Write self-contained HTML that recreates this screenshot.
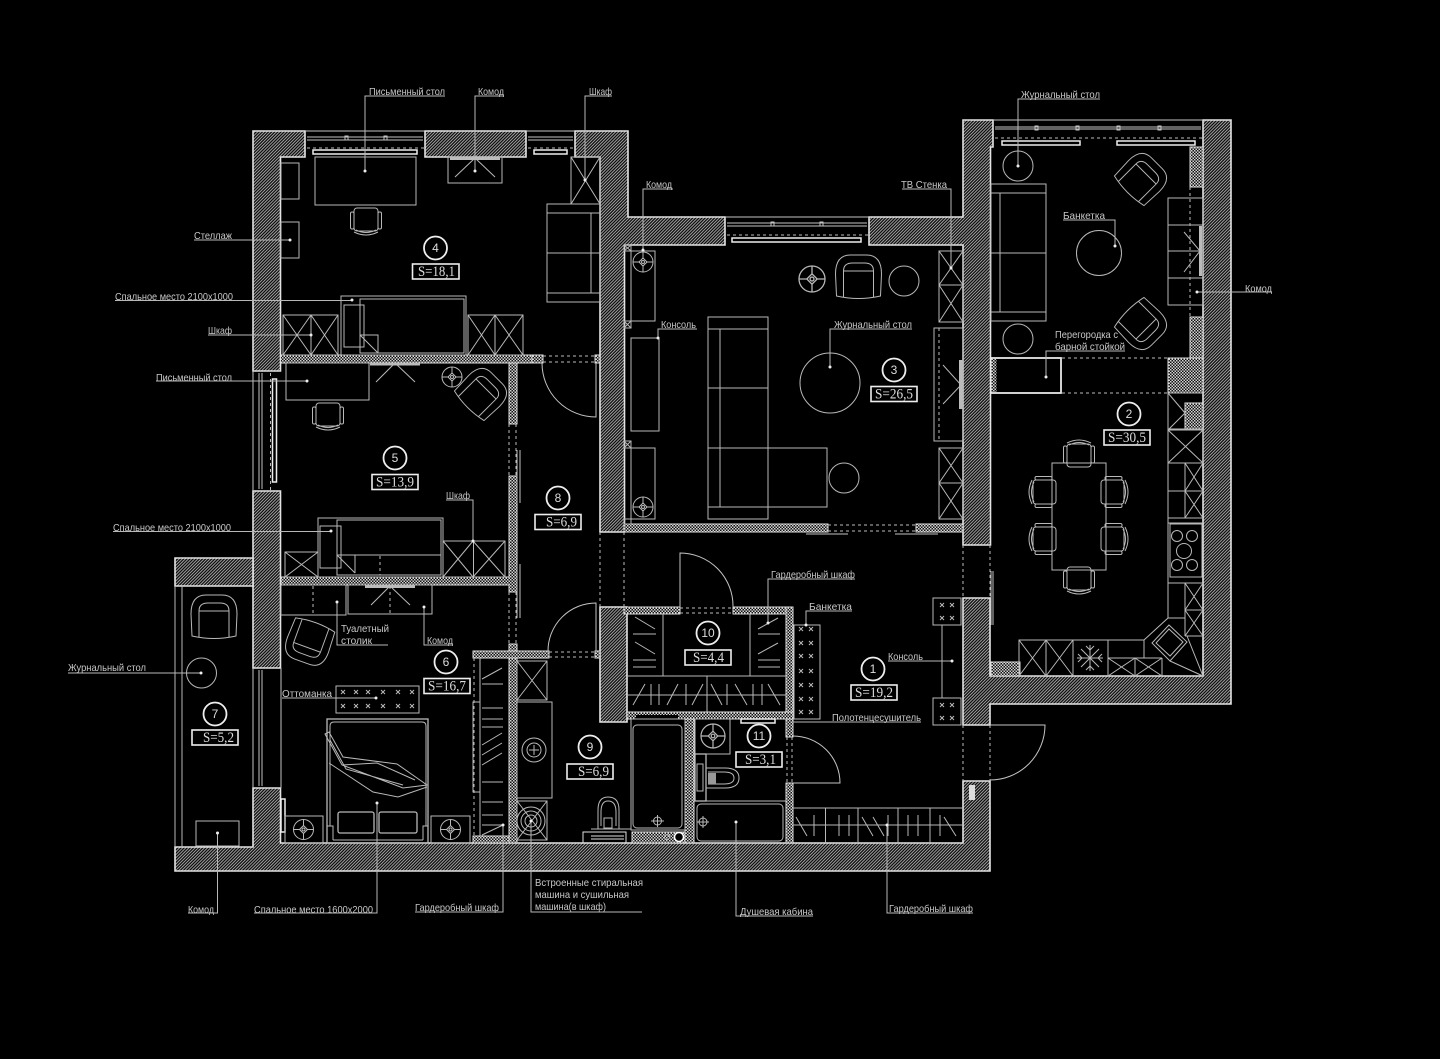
<!DOCTYPE html>
<html><head><meta charset="utf-8"><style>
html,body{margin:0;padding:0;background:#000}
svg{display:block;filter:blur(.3px)}
text{font-family:"Liberation Sans",sans-serif;font-size:10.5px;fill:#c8c8c8;letter-spacing:0}
.n{font-size:12px;text-anchor:middle;fill:#ddd}
.s{font-family:"Liberation Serif",serif;font-size:15px;fill:#ddd}
.l{fill:none;stroke:#b8b8b8;stroke-width:1}
.m{fill:none;stroke:#c4c4c4;stroke-width:1}
.w{stroke:#e4e4e4;stroke-width:1.6}
.d{fill:none;stroke:#bbb;stroke-width:1;stroke-dasharray:3 3}
.b{fill:#000;stroke:#e8e8e8;stroke-width:1.8}
.t{fill:#000;stroke:#eee;stroke-width:1.6}
.o{fill:#eee}
.c{fill:none;stroke:#eee;stroke-width:1.8}
</style></head><body>
<svg xmlns="http://www.w3.org/2000/svg" width="1440" height="1059" viewBox="0 0 1440 1059">
<defs>
<pattern id="h" width="2.2" height="2.2" patternUnits="userSpaceOnUse" patternTransform="rotate(45)"><rect width="2.2" height="2.2" fill="#0a0a0a"/><rect width="0.95" height="2.2" fill="#a8a8a8"/></pattern>
<pattern id="k" width="3" height="3" patternUnits="userSpaceOnUse"><rect width="3" height="3" fill="#111"/><rect width="1.5" height="1.5" fill="#d4d4d4"/><rect x="1.5" y="1.5" width="1.5" height="1.5" fill="#d4d4d4"/></pattern>
<g id="lamp"><circle r="10" class="l"/><path class="l" d="M-10 0H-3M3 0H10M0-10V-3M0 3V10M0-4L4 0 0 4-4 0Z"/><circle r="1.5" class="l"/></g>
<g id="arm"><path class="l" d="M-22 19L-23-3Q-23-22-8-22H8Q23-22 23-3L22 19Q0 24-22 19Z"/><path class="l" d="M-15 20V-6H15V20M-15-6Q-15-14-6-14H6Q15-14 15-6"/></g>
<g id="ch"><rect x="-12" y="-14" width="24" height="23" rx="3" class="l"/><rect x="-15.5" y="-10" width="3.5" height="17" rx="1.5" class="l"/><rect x="12" y="-10" width="3.5" height="17" rx="1.5" class="l"/><path class="l" d="M-12 10Q0 16 12 10M-10 8Q0 13 10 8"/></g>
<path id="x" d="M-2-2L2 2M2-2L-2 2" fill="none" stroke="#bbb" stroke-width="1"/>
</defs>
<rect width="1440" height="1059" fill="#000"/>

<!-- main walls -->
<g fill="url(#h)" class="w">
<path d="M253 131H305V157H280.5V371H253Z"/>
<path d="M425 131H526V157H425Z"/>
<path d="M575 131H628V217H725V245H624.5V532H600V157H575Z"/>
<path d="M869 217H963V120H993V147H990.5V545H963V245H869Z"/>
<path d="M1203 120H1231V704H990V725H963V598H990V676H1203Z"/>
<path d="M963 781H990V871H175V847H253V788H280.5V843H963Z"/>
<path d="M253 491H280.5V668H253Z"/>
<path d="M175 558H253V586H175Z"/>
<path d="M600 607H627V722H600Z"/>
</g>
<!-- checkered walls -->
<g fill="url(#k)" stroke="#ddd" stroke-width="1">
<path d="M280.5 355H532V363H280.5Z"/>
<rect x="532" y="355" width="11" height="8"/>
<rect x="595" y="355" width="5" height="8"/>
<rect x="509" y="363" width="8" height="61"/>
<path d="M509 476H517V592H509V585H281V577H509Z"/>
<rect x="509" y="644" width="8" height="199"/>
<rect x="473" y="651" width="76" height="7"/>
<rect x="595" y="651" width="5" height="7"/>
<rect x="473" y="836" width="36" height="7"/>
<rect x="624" y="607" width="56" height="7"/>
<rect x="733" y="607" width="60" height="7"/>
<rect x="786" y="607" width="7" height="130"/>
<rect x="786" y="783" width="7" height="60"/>
<rect x="627" y="712" width="166" height="7"/>
<rect x="685" y="719" width="9" height="124"/>
<rect x="632" y="832" width="53" height="11"/>
<rect x="624" y="524" width="204" height="8"/>
<rect x="916" y="524" width="47" height="8"/>
<rect x="1190" y="147" width="13" height="40"/>
<rect x="1190" y="317" width="13" height="41"/>
<rect x="1168" y="358" width="35" height="35"/>
<rect x="1185" y="403" width="18" height="26"/>
<rect x="991" y="662" width="29" height="14"/>
</g>
<rect x="636" y="715" width="42" height="5" fill="#000"/>

<!-- windows -->
<g class="m">
<path d="M305 131H425M307 137H423M307 140H423M526 131H575M528 137H573M528 140H573"/>
<path d="M725 217H869M727 223H867M727 226H867"/>
<path d="M993 120H1203M995 127H1201M995 129H1201"/>
<path d="M253 371V491M259 373V489M262 373V489M253 668V788M259 670V786M262 670V786M281 668V788"/>
<rect x="345" y="136" width="3" height="4"/><rect x="384" y="136" width="3" height="4"/>
<rect x="771" y="222" width="3" height="4"/><rect x="820" y="222" width="3" height="4"/>
<rect x="1035" y="126" width="3" height="4"/><rect x="1076" y="126" width="3" height="4"/><rect x="1117" y="126" width="3" height="4"/><rect x="1158" y="126" width="3" height="4"/>
</g>
<path class="d" d="M307 148H425M528 148H575M727 235H869M995 138H1203M270.5 373V491"/>
<g fill="#000" stroke="#eee" stroke-width="1.5">
<rect x="313" y="150" width="104" height="4"/><rect x="534" y="150" width="33" height="4"/>
<rect x="732" y="238" width="129" height="4"/>
<rect x="1002" y="141" width="78" height="4"/><rect x="1117" y="141" width="78" height="4"/>
<rect x="272.5" y="379" width="4" height="103"/>
<rect x="281" y="799" width="4" height="33"/>
<rect x="741" y="719" width="34" height="4"/>
</g>
<rect x="969" y="785" width="6" height="15" fill="#ddd"/>

<!-- dashes at doors -->
<path class="d" d="M543 356H595M543 362H595M549 652H595M549 657H595M509 424V476M516 424V476M509 592V644M516 592V644M600 532V607M624 532V607M680 608H733M680 613H733M828 525H916M828 531H916M963 545V598M990 545V598M963 725V781M990 725V781M787 737V783M792 737V783M1062 358H1168M1062 393H1168M1190 187V317"/>
<!-- doors -->
<path class="m" d="M542 363A54 54 0 0 0 596 417V363M548 651A48 48 0 0 1 596 603V651M680 607V553A53 53 0 0 1 733 607M793 736A47 47 0 0 1 840 783H793M990 725H1045A55 55 0 0 1 990 780"/>
<path class="m" d="M517 450V503M520 450V503M517 564V618M520 564V618M806 534H848M895 534H938M991 571V625M993 571V625"/>

<!-- ROOM 4 -->
<g class="l">
<rect x="315" y="157" width="101" height="48"/>
<rect x="448" y="157" width="54" height="26"/>
<path d="M475 158L455 177M475 158L495 177"/>
<rect x="571" y="157" width="29" height="47"/><path d="M571 157L600 204M600 157L571 204"/>
<rect x="547" y="204" width="53" height="98"/><path d="M547 213H600M591 213V293M547 253H600M547 293H600"/>
<rect x="281" y="163" width="18" height="36"/><rect x="281" y="222" width="18" height="36"/>
<rect x="341" y="296" width="125" height="59"/><rect x="360" y="299" width="104" height="54"/>
<rect x="344" y="305" width="20" height="42"/>
<path d="M360 335H378V353M360 335L378 353"/>
<rect x="283" y="315" width="55" height="40"/><path d="M311 315V355M283 355L311 315M283 315L311 355M311 315L338 355M338 315L311 355"/>
<rect x="468" y="315" width="55" height="40"/><path d="M495 315V355M468 355L495 315M468 315L495 355M495 315L523 355M523 315L495 355"/>
</g>
<rect x="450" y="157" width="50" height="3" fill="#bbb"/>
<use href="#ch" x="366" y="222"/>

<!-- ROOM 3 -->
<g class="l">
<rect x="631" y="251" width="24" height="70"/>
<rect x="631" y="338" width="28" height="93"/>
<rect x="631" y="448" width="24" height="71"/>
<path d="M708 519V317H768V519ZM708 329H768M720 329V507M708 388H768M708 448H827V507H708"/>
<circle cx="904" cy="281" r="15"/><circle cx="844" cy="478" r="15"/><circle cx="830" cy="383" r="30"/>
<rect x="939" y="251" width="24" height="71"/><path d="M939 285H963M939 251L963 285M963 251L939 285M939 285L963 322M963 285L939 322"/>
<rect x="934" y="328" width="29" height="113"/><path d="M943 365L961 385L943 404"/>
<rect x="939" y="448" width="24" height="71"/><path d="M939 483H963M939 448L963 483M963 448L939 483M939 483L963 519M963 483L939 519"/>
<rect x="624" y="245" width="7" height="6"/><rect x="624" y="321" width="7" height="7"/><rect x="624" y="441" width="7" height="7"/><rect x="624" y="519" width="7" height="5"/>
<path d="M624 245L631 251M631 245L624 251M624 321L631 328M631 321L624 328M624 441L631 448M631 441L624 448"/>
</g>
<path class="d" d="M939 328V441"/>
<rect x="959" y="360" width="3.5" height="49" fill="#bbb"/>
<use href="#lamp" x="643" y="262"/><use href="#lamp" x="643" y="507"/>
<use href="#lamp" transform="translate(812 279) scale(1.3)"/>
<use href="#arm" x="858.5" y="277"/>

<!-- ROOM 2 upper -->
<g class="l">
<circle cx="1018" cy="166" r="15"/><circle cx="1018" cy="339" r="15"/><circle cx="1099" cy="253" r="22.5"/>
<rect x="991" y="184" width="55" height="137"/><path d="M991 193H1046M1000 193V312M991 253H1046M991 312H1046"/>
<rect x="1168" y="198" width="35" height="107"/><path d="M1168 225H1203M1168 251H1203M1168 278H1203M1184 232L1200 251L1184 272"/>
</g>
<rect x="1199" y="226" width="3" height="50" fill="#bbb"/>
<use href="#arm" transform="translate(1142 178) rotate(45) scale(.95)"/>
<use href="#arm" transform="translate(1142 325) rotate(135) scale(.95)"/>
<rect x="991" y="358" width="70" height="35" class="b" fill="#000"/>
<rect x="991.5" y="359" width="5" height="33" fill="url(#k)"/>

<!-- ROOM 2 lower -->
<rect x="1052" y="463" width="54" height="107" class="l"/>
<use href="#ch" transform="translate(1079 453) rotate(180)"/>
<use href="#ch" transform="translate(1079 581)"/>
<use href="#ch" transform="translate(1042 492) rotate(90)"/>
<use href="#ch" transform="translate(1042 539) rotate(90)"/>
<use href="#ch" transform="translate(1115 492) rotate(-90)"/>
<use href="#ch" transform="translate(1115 539) rotate(-90)"/>
<g class="l">
<path d="M1168 393V618L1144 640H1019V676M1168 393L1203 393M1168 430L1185 413M1168 393L1185 413M1168 429H1203"/>
<rect x="1168" y="430" width="35" height="33"/><path d="M1168 430L1203 463M1203 430L1168 463"/>
<path d="M1168 463H1203M1185 463V518M1168 491H1203M1168 518H1203M1168 523H1203M1185 463L1203 491M1203 463L1185 491M1185 491L1203 518M1203 491L1185 518"/>
<rect x="1170" y="524" width="32" height="53"/>
<circle cx="1177" cy="536" r="5.5"/><circle cx="1192" cy="536" r="5.5"/><circle cx="1184" cy="551" r="7.5"/><circle cx="1177" cy="565" r="5.5"/><circle cx="1192" cy="565" r="5.5"/>
<path d="M1168 583H1203M1185 583V636M1168 618H1185M1185 610H1203M1185 636H1203M1185 583L1203 610M1203 583L1185 610M1185 610L1203 636M1203 610L1185 636"/>
<path d="M1046 640V676M1073 640V676M1108 640V676M1144 640V658M1019 640L1046 676M1046 640L1019 676M1046 640L1073 676M1073 640L1046 676"/>
<path d="M1108 658H1162M1135 658V676M1162 658V676M1108 658L1135 676M1135 658L1108 676M1135 658L1162 676M1162 658L1135 676"/>
<path d="M1169 625L1187 642L1170 661L1152 643ZM1169 629L1183 642L1170 656L1156 643Z"/>
<path d="M1170 661L1203 676M1187 636L1203 676"/>
<path d="M1090 645V671M1077 658H1103M1081 649L1099 667M1099 649L1081 667M1086 646L1090 650L1094 646M1086 670L1090 666L1094 670M1078 654L1082 658L1078 662M1102 654L1098 658L1102 662"/>
</g>

<!-- ROOM 1 -->
<g class="l">
<rect x="933" y="598" width="28" height="27"/><rect x="933" y="698" width="28" height="27"/>
<path d="M942 625V698"/>
<rect x="794" y="625" width="26" height="94"/>
<path d="M793 808H963M825.5 808V843M858 808V843M898 808V843M930 808V843M793 825H963"/>
<path d="M796 817L807 836M814 815V836M839 815V836M849 815V836M862 817L873 836M873 817L884 836M888 815V836M908 815V836M918 815V836M940 815V836M944 817L956 836"/>
</g>
<g>
<use href="#x" x="942" y="605"/><use href="#x" x="952" y="605"/><use href="#x" x="942" y="618"/><use href="#x" x="952" y="618"/>
<use href="#x" x="942" y="705"/><use href="#x" x="952" y="705"/><use href="#x" x="942" y="718"/><use href="#x" x="952" y="718"/>
<use href="#x" x="801" y="629"/><use href="#x" x="811" y="629"/><use href="#x" x="801" y="643"/><use href="#x" x="811" y="643"/><use href="#x" x="801" y="656"/><use href="#x" x="811" y="656"/><use href="#x" x="801" y="671"/><use href="#x" x="811" y="671"/><use href="#x" x="801" y="685"/><use href="#x" x="811" y="685"/><use href="#x" x="801" y="699"/><use href="#x" x="811" y="699"/><use href="#x" x="801" y="712"/><use href="#x" x="811" y="712"/>
</g>

<!-- ROOM 10 -->
<g class="l">
<path d="M663 614V676M750 614V676M627 676H786M707 676V712M627 695H786"/>
<path d="M633 634H656M633 660H656M633 667H656M635 617L655 629M635 642L655 654"/>
<path d="M758 634H780M758 660H780M758 667H780M758 629L778 618M758 654L778 643"/>
<path d="M633 705L645 684M651 684V705M659 684V705M667 705L678 684M686 684V705M692 705L703 684M711 684L722 705M727 684V705M735 684L747 705M753 684V705M762 684V705M768 684L780 705"/>
</g>

<!-- ROOM 11 / bath -->
<g class="l">
<rect x="695" y="719" width="35" height="35"/>
<rect x="695" y="754" width="11" height="47" stroke-width="1.3"/>
<rect x="697" y="764" width="6" height="27"/>
<path d="M706 768H725Q739 768 739 778Q739 788 725 788H706"/>
<path d="M708 772H724Q734 772 734 778Q734 784 724 784H708"/>
<path d="M694 801H786"/>
<rect x="697" y="804" width="86" height="37" rx="4"/>
<rect x="631" y="719" width="54" height="111"/>
<rect x="633" y="725" width="49" height="103" rx="4"/>
<circle cx="657.5" cy="821" r="4"/><path d="M651 821H664M657.5 815V827"/>
<circle cx="703" cy="822" r="4"/><path d="M697 822H709M703 816V828"/>
<circle cx="667" cy="837" r="2.5"/>
</g>
<rect x="708" y="773" width="8" height="11" fill="#999"/>
<use href="#lamp" transform="translate(713 736) scale(1.2)"/>
<circle cx="679" cy="837" r="4.5" fill="#000" stroke="#fff" stroke-width="1.5"/>

<!-- ROOM 9 -->
<g class="l">
<rect x="517" y="661" width="30" height="39"/><path d="M517 661L547 700M547 661L517 700"/>
<rect x="517" y="702" width="35" height="96"/><circle cx="534" cy="750" r="12"/><circle cx="534" cy="750" r="7"/><path d="M529 750H539M534 745V755"/>
<rect x="517" y="801" width="30" height="39"/><path d="M517 801L547 840M547 801L517 840"/>
<circle cx="531" cy="821" r="14"/><circle cx="531" cy="821" r="10"/><circle cx="531" cy="821" r="6"/>
<path d="M591 829H631M598 829V810Q598 797 608 797Q619 797 619 810V829M601 826V812Q601 801 608 801Q616 801 616 812V826"/>
<rect x="604" y="818" width="8" height="10"/>
<path d="M583 843V832H626V843M591 836H624M591 839H624" stroke="#e0e0e0"/>
</g>

<!-- ROOM 6 -->
<g class="l">
<path d="M480 658V836"/><rect x="473" y="702" width="7" height="90"/>
<path d="M482 684H503M482 708H503M482 719H503M482 727H503M482 782H503M482 802H503M482 815H503M482 825H503M482 679L502 668M482 745L502 733M482 755L502 743M482 765L502 753M482 835L503 825"/>
<rect x="336" y="686" width="83" height="27"/>
<rect x="327" y="719" width="101" height="124" stroke-width="1.3"/>
<path d="M330 826V726Q330 722 334 722H422Q426 722 426 726V826"/>
<path d="M330 826H327M426 826H428M333 840H423M333 840V826H330M423 840V826H426"/>
<path d="M325 734L342 765L403 788L427 785L397 764L343 757L329 732ZM342 765L377 763L415 780M329 763L373 792L398 797L427 787M330 740L346 769L403 785"/>
<rect x="338" y="812" width="36" height="21" rx="2" stroke-width="1.3"/><rect x="379" y="812" width="38" height="21" rx="2" stroke-width="1.3"/>
<rect x="285" y="816" width="38" height="27"/><rect x="431" y="816" width="39" height="27"/>
<rect x="281" y="585" width="65" height="30"/><rect x="348" y="585" width="84" height="29"/>
<path d="M390 586L371 605M390 586L410 605"/>
</g>
<path class="d" d="M313 586V614M390 586V614M474 658V836"/>
<rect x="365" y="585" width="50" height="3" fill="#bbb"/>
<use href="#lamp" x="303.5" y="829.5"/><use href="#lamp" x="450.5" y="829.5"/>
<use href="#arm" transform="translate(309 642) rotate(200) scale(.95)"/>
<g>
<use href="#x" x="343" y="692"/><use href="#x" x="356" y="692"/><use href="#x" x="368" y="692"/><use href="#x" x="383" y="692"/><use href="#x" x="398" y="692"/><use href="#x" x="412" y="692"/>
<use href="#x" x="343" y="706"/><use href="#x" x="356" y="706"/><use href="#x" x="368" y="706"/><use href="#x" x="383" y="706"/><use href="#x" x="398" y="706"/><use href="#x" x="412" y="706"/>
</g>

<!-- ROOM 5 -->
<g class="l">
<rect x="286" y="363" width="83" height="37"/>
<path d="M395 363L376 382M395 363L415 382"/>
<rect x="318" y="518" width="125" height="59"/><rect x="337" y="520" width="104" height="55"/>
<rect x="320" y="526" width="21" height="42"/>
<path d="M337 555H441M337 555L355 573M355 555V573"/>
<rect x="285" y="552" width="33" height="25"/><path d="M285 552L318 577M318 552L285 577"/>
<rect x="443" y="541" width="62" height="36"/><path d="M473.5 541V577M443 577L473 541M443 541L473 577M473 541L505 577M505 541L473 577"/>
</g>
<path class="d" d="M380 556V575"/>
<rect x="370" y="363" width="50" height="2.5" fill="#bbb"/>
<use href="#ch" x="328" y="417"/>
<use href="#lamp" x="452" y="377"/>
<use href="#arm" transform="translate(482 393) rotate(45) scale(.95)"/>

<!-- ROOM 7 -->
<g class="l">
<path d="M175 586V847M182 586V847"/>
<circle cx="201.5" cy="673" r="15"/>
<rect x="196" y="821" width="43" height="25"/>
</g>
<use href="#arm" x="214" y="617"/>

<!-- leaders -->
<g class="l" stroke-width="0.9">
<path d="M365 171V96H445M475 171V96H504M585 180V96H612"/>
<path d="M194 240H290M115 300.5H352M208 335H311M156 381H307M113 531.5H331M446 500H473V541"/>
<path d="M68 673H201M188 913H217.5V833M254 913H377V803M415 912H503V825M531 821V912H642M736 822V916H813M887 825V913H973"/>
<path d="M337 602V645H388M424 607V645H453M282 698H376"/>
<path d="M643 250V189H673M658 338V329H697M830 367V329H912M951 268V189H902"/>
<path d="M1018 166V99H1100M1115 246V220H1063M1197 292H1272M1046 377V351H1125"/>
<path d="M768 623V579H855M806 625V611H852M888 661H952M793 722H921"/>
</g>
<g class="o">
<circle cx="365" cy="171" r="1.5"/><circle cx="475" cy="171" r="1.5"/><circle cx="585" cy="180" r="1.5"/><circle cx="290" cy="240" r="1.5"/><circle cx="352" cy="300" r="1.5"/><circle cx="311" cy="335" r="1.5"/><circle cx="307" cy="381" r="1.5"/><circle cx="331" cy="531" r="1.5"/><circle cx="473" cy="541" r="1.5"/><circle cx="201" cy="673" r="1.5"/><circle cx="217.5" cy="833" r="1.5"/><circle cx="377" cy="803" r="1.5"/><circle cx="503" cy="825" r="1.5"/><circle cx="531" cy="821" r="1.5"/><circle cx="736" cy="822" r="1.5"/><circle cx="887" cy="825" r="1.5"/><circle cx="337" cy="602" r="1.5"/><circle cx="424" cy="607" r="1.5"/><circle cx="376" cy="698" r="1.5"/><circle cx="643" cy="250" r="1.5"/><circle cx="658" cy="338" r="1.5"/><circle cx="830" cy="367" r="1.5"/><circle cx="951" cy="268" r="1.5"/><circle cx="1018" cy="166" r="1.5"/><circle cx="1115" cy="246" r="1.5"/><circle cx="1197" cy="292" r="1.5"/><circle cx="1046" cy="377" r="1.5"/><circle cx="768" cy="623" r="1.5"/><circle cx="806" cy="625" r="1.5"/><circle cx="952" cy="661" r="1.5"/>
</g>

<!-- labels -->
<text x="369" y="95" textLength="76" lengthAdjust="spacingAndGlyphs">Письменный стол</text>
<text x="478" y="95" textLength="26" lengthAdjust="spacingAndGlyphs">Комод</text>
<text x="589" y="95" textLength="23" lengthAdjust="spacingAndGlyphs">Шкаф</text>
<text x="194" y="239" textLength="38" lengthAdjust="spacingAndGlyphs">Стеллаж</text>
<text x="115" y="300" textLength="118" lengthAdjust="spacingAndGlyphs">Спальное место 2100х1000</text>
<text x="208" y="334" textLength="24" lengthAdjust="spacingAndGlyphs">Шкаф</text>
<text x="156" y="381" textLength="76" lengthAdjust="spacingAndGlyphs">Письменный стол</text>
<text x="113" y="531" textLength="118" lengthAdjust="spacingAndGlyphs">Спальное место 2100х1000</text>
<text x="446" y="499" textLength="24" lengthAdjust="spacingAndGlyphs">Шкаф</text>
<text x="341" y="632" textLength="48" lengthAdjust="spacingAndGlyphs">Туалетный</text>
<text x="341" y="644" textLength="31" lengthAdjust="spacingAndGlyphs">столик</text>
<text x="427" y="644" textLength="26" lengthAdjust="spacingAndGlyphs">Комод</text>
<text x="282" y="697" textLength="50" lengthAdjust="spacingAndGlyphs">Оттоманка</text>
<text x="68" y="671" textLength="78" lengthAdjust="spacingAndGlyphs">Журнальный стол</text>
<text x="188" y="913" textLength="26" lengthAdjust="spacingAndGlyphs">Комод</text>
<text x="254" y="913" textLength="119" lengthAdjust="spacingAndGlyphs">Спальное место 1600х2000</text>
<text x="415" y="911" textLength="84" lengthAdjust="spacingAndGlyphs">Гардеробный шкаф</text>
<text x="535" y="886" textLength="108" lengthAdjust="spacingAndGlyphs">Встроенные стиральная</text>
<text x="535" y="898" textLength="94" lengthAdjust="spacingAndGlyphs">машина и сушильная</text>
<text x="535" y="910" textLength="71" lengthAdjust="spacingAndGlyphs">машина(в шкаф)</text>
<text x="740" y="915" textLength="73" lengthAdjust="spacingAndGlyphs">Душевая кабина</text>
<text x="889" y="912" textLength="84" lengthAdjust="spacingAndGlyphs">Гардеробный шкаф</text>
<text x="646" y="188" textLength="26" lengthAdjust="spacingAndGlyphs">Комод</text>
<text x="661" y="328" textLength="35" lengthAdjust="spacingAndGlyphs">Консоль</text>
<text x="834" y="328" textLength="78" lengthAdjust="spacingAndGlyphs">Журнальный стол</text>
<text x="901" y="188" textLength="46" lengthAdjust="spacingAndGlyphs">ТВ Стенка</text>
<text x="1021" y="98" textLength="79" lengthAdjust="spacingAndGlyphs">Журнальный стол</text>
<text x="1063" y="219" textLength="42" lengthAdjust="spacingAndGlyphs">Банкетка</text>
<text x="1245" y="292" textLength="27" lengthAdjust="spacingAndGlyphs">Комод</text>
<text x="1055" y="338" textLength="63" lengthAdjust="spacingAndGlyphs">Перегородка с</text>
<text x="1055" y="350" textLength="70" lengthAdjust="spacingAndGlyphs">барной стойкой</text>
<text x="771" y="578" textLength="84" lengthAdjust="spacingAndGlyphs">Гардеробный шкаф</text>
<text x="809" y="610" textLength="43" lengthAdjust="spacingAndGlyphs">Банкетка</text>
<text x="888" y="660" textLength="35" lengthAdjust="spacingAndGlyphs">Консоль</text>
<text x="832" y="721" textLength="89" lengthAdjust="spacingAndGlyphs">Полотенцесушитель</text>

<!-- room markers -->
<g class="c">
<circle cx="873" cy="669" r="11.5"/><circle cx="1129" cy="414" r="11.5"/><circle cx="894" cy="370" r="11.5"/><circle cx="435.5" cy="248" r="11.5"/><circle cx="395" cy="458" r="11.5"/><circle cx="446" cy="662" r="11.5"/><circle cx="215" cy="714" r="11.5"/><circle cx="558" cy="498" r="11.5"/><circle cx="590" cy="747" r="11.5"/><circle cx="708" cy="633" r="11.5"/><circle cx="759" cy="736" r="11.5"/>
</g>
<text class="n" x="873" y="673">1</text><text class="n" x="1129" y="418">2</text><text class="n" x="894" y="374">3</text><text class="n" x="435.5" y="252">4</text><text class="n" x="395" y="462">5</text><text class="n" x="446" y="666">6</text><text class="n" x="215" y="718">7</text><text class="n" x="558" y="502">8</text><text class="n" x="590" y="751">9</text><text class="n" x="708" y="637">10</text><text class="n" x="759" y="740">11</text>
<g class="t">
<rect x="851" y="685" width="46" height="15"/><rect x="1104" y="430" width="46" height="15"/><rect x="871" y="386.5" width="46" height="15"/><rect x="412.5" y="264" width="46.5" height="15"/><rect x="372" y="474.5" width="46" height="15"/><rect x="424" y="678.5" width="46" height="15"/><rect x="192" y="730" width="46" height="15"/><rect x="535" y="514.5" width="46" height="15"/><rect x="567" y="764" width="46" height="15"/><rect x="685" y="650" width="46" height="15"/><rect x="736" y="752" width="46" height="15"/>
</g>
<text class="s" x="855" y="697" textLength="38" lengthAdjust="spacingAndGlyphs">S=19,2</text>
<text class="s" x="1108" y="442" textLength="38" lengthAdjust="spacingAndGlyphs">S=30,5</text>
<text class="s" x="875" y="398.5" textLength="38" lengthAdjust="spacingAndGlyphs">S=26,5</text>
<text class="s" x="418" y="276" textLength="37" lengthAdjust="spacingAndGlyphs">S=18,1</text>
<text class="s" x="376" y="486.5" textLength="38" lengthAdjust="spacingAndGlyphs">S=13,9</text>
<text class="s" x="428" y="690.5" textLength="38" lengthAdjust="spacingAndGlyphs">S=16,7</text>
<text class="s" x="203" y="742" textLength="31" lengthAdjust="spacingAndGlyphs">S=5,2</text>
<text class="s" x="546" y="526.5" textLength="31" lengthAdjust="spacingAndGlyphs">S=6,9</text>
<text class="s" x="578" y="776" textLength="31" lengthAdjust="spacingAndGlyphs">S=6,9</text>
<text class="s" x="693" y="662" textLength="31" lengthAdjust="spacingAndGlyphs">S=4,4</text>
<text class="s" x="745" y="764" textLength="31" lengthAdjust="spacingAndGlyphs">S=3,1</text>
</svg>
</body></html>
